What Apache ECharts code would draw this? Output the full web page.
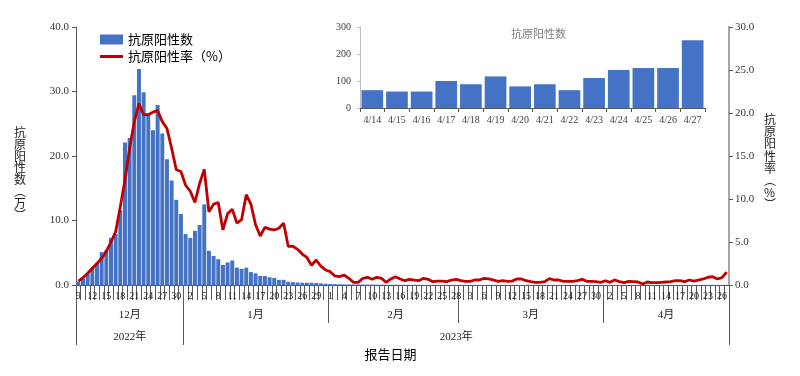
<!DOCTYPE html>
<html>
<head>
<meta charset="utf-8">
<title>抗原阳性数及阳性率</title>
<script src="https://cdn.jsdelivr.net/npm/echarts@6/dist/echarts.min.js"></script>
<style>
html, body { margin: 0; padding: 0; background: #fff; }
#main { width: 800px; height: 376px; }
</style>
</head>
<body>
<div id="main"></div>
<script>
// 报告日期：2022-12-09 ~ 2023-04-27，按月份的起止日
var monthRanges = [[2022, 12, 9, 31], [2023, 1, 1, 31], [2023, 2, 1, 28], [2023, 3, 1, 31], [2023, 4, 1, 27]];

// 抗原阳性数（万）
var positiveCount = [
    0.5, 1.0, 1.8, 2.6, 3.4, 5.1, 5.4, 7.3, 7.9, 11.6,
    22.1, 22.8, 29.4, 33.5, 29.9, 26.3, 24.0, 27.9, 23.5, 19.5,
    16.2, 13.2, 11.0, 7.9, 7.3, 8.4, 9.3, 12.5, 5.3, 4.5,
    4.0, 3.1, 3.5, 3.8, 2.7, 2.5, 2.7, 2.0, 1.8, 1.4,
    1.4, 1.2, 1.1, 0.8, 0.8, 0.5, 0.45, 0.4, 0.35, 0.35,
    0.35, 0.3, 0.25, 0.2, 0.15, 0.13, 0.12, 0.1, 0.09, 0.08,
    0.08, 0.07, 0.06, 0.06, 0.05, 0.05, 0.04, 0.04, 0.04, 0.03,
    0.03, 0.03, 0.03, 0.02, 0.02, 0.02, 0.02, 0.02, 0.02, 0.02,
    0.02, 0.02, 0.02, 0.02, 0.02, 0.02, 0.02, 0.02, 0.015, 0.015,
    0.015, 0.015, 0.015, 0.015, 0.015, 0.012, 0.012, 0.012, 0.012, 0.012,
    0.01, 0.01, 0.01, 0.01, 0.01, 0.01, 0.01, 0.01, 0.01, 0.01,
    0.01, 0.01, 0.01, 0.009, 0.008, 0.008, 0.008, 0.007, 0.007, 0.007,
    0.007, 0.006, 0.007, 0.007, 0.007, 0.006, 0.0066, 0.0061, 0.0061, 0.01,
    0.0088, 0.0117, 0.008, 0.0088, 0.0066, 0.0111, 0.0141, 0.0148, 0.0148, 0.0251
];

// 抗原阳性率（%）
var positiveRate = [
    0.46, 0.85, 1.36, 1.94, 2.5, 3.1, 3.9, 5.0, 6.2, 9.1,
    12.2, 15.9, 19.0, 21.1, 19.8, 19.8, 20.1, 20.3, 19.0, 18.2,
    15.9, 13.4, 13.2, 11.6, 10.9, 9.6, 11.8, 13.45, 8.5, 9.4,
    9.6, 6.4, 8.3, 8.8, 7.2, 7.6, 10.5, 9.4, 7.0, 5.7,
    6.7, 6.5, 6.4, 6.6, 7.2, 4.5, 4.5, 4.15, 3.6, 3.2,
    2.3, 2.9, 2.2, 1.75, 1.55, 1.05, 0.97, 1.16, 0.78, 0.31,
    0.31, 0.78, 0.9, 0.66, 0.9, 0.78, 0.31, 0.7, 0.97, 0.7,
    0.5, 0.66, 0.58, 0.5, 0.78, 0.66, 0.39, 0.45, 0.45, 0.39,
    0.58, 0.66, 0.5, 0.43, 0.43, 0.58, 0.58, 0.78, 0.7, 0.58,
    0.43, 0.5, 0.43, 0.45, 0.7, 0.7, 0.5, 0.39, 0.31, 0.31,
    0.39, 0.74, 0.58, 0.58, 0.43, 0.43, 0.43, 0.5, 0.66, 0.43,
    0.43, 0.39, 0.31, 0.5, 0.31, 0.58, 0.39, 0.27, 0.43, 0.39,
    0.35, 0.12, 0.35, 0.27, 0.27, 0.31, 0.35, 0.39, 0.5, 0.5,
    0.39, 0.58, 0.45, 0.58, 0.7, 0.9, 0.97, 0.7, 0.85, 1.5
];

// 小图：4月14日-27日抗原阳性数（人）
var insetDates = ['4/14', '4/15', '4/16', '4/17', '4/18', '4/19', '4/20', '4/21', '4/22', '4/23', '4/24', '4/25', '4/26', '4/27'];
var insetCounts = [66, 61, 61, 100, 88, 117, 80, 88, 66, 111, 141, 148, 148, 251];

var dates = [];
var monthStart = {}, monthMid = {}, yearStart = {}, yearMid = {};
var yearFirst = {}, yearLast = {};
for (var m = 0; m < monthRanges.length; m++) {
    var r = monthRanges[m];
    var first = dates.length;
    for (var d = r[2]; d <= r[3]; d++) {
        dates.push(r[0] + '-' + r[1] + '-' + d);
    }
    var last = dates.length - 1;
    monthStart[first] = true;
    monthMid[Math.round((first + last) / 2)] = r[1] + '月';
    if (yearFirst[r[0]] === undefined) yearFirst[r[0]] = first;
    yearLast[r[0]] = last;
}
for (var y in yearFirst) {
    yearStart[yearFirst[y]] = true;
    yearMid[Math.round((yearFirst[y] + yearLast[y]) / 2)] = y + '年';
}

var serif = 'Liberation Serif, Noto Sans CJK SC';
var cjk = 'Noto Sans CJK SC';
var axisGray = '#595959';
// 图例里的红线：上下留空的细横条
var lineIcon = 'path://M0,0 L23,0 Z M0,3.6 L23,3.6 L23,6.4 L0,6.4 Z M0,10 L23,10 Z';

var myChart = echarts.init(document.getElementById('main'));

var option = {
    backgroundColor: '#fff',
    animation: false,
    title: {
        text: '抗原阳性数',
        left: 506,
        top: 23,
        textStyle: { fontSize: 11, fontWeight: 'normal', color: '#808080', fontFamily: cjk }
    },
    legend: {
        orient: 'vertical',
        left: 95,
        top: 28,
        itemWidth: 23,
        itemHeight: 10,
        itemGap: 4,
        textStyle: { fontSize: 13, color: '#000', fontFamily: cjk },
        data: [
            { name: '抗原阳性数', icon: 'rect' },
            { name: '抗原阳性率（%）', icon: lineIcon }
        ]
    },
    grid: [
        { left: 76, right: 71, top: 27, bottom: 91 },
        { left: 360, top: 27, width: 345, height: 81 }
    ],
    xAxis: [
        {
            type: 'category',
            gridIndex: 0,
            position: 'bottom',
            data: dates,
            axisLine: { show: true, lineStyle: { color: axisGray } },
            axisTick: { show: true, interval: 0, length: 15, lineStyle: { color: axisGray } },
            axisLabel: {
                interval: 2,
                margin: 6,
                fontSize: 10,
                color: '#222',
                fontFamily: serif,
                formatter: function (value) { return value.split('-')[2]; }
            }
        },
        {
            type: 'category',
            gridIndex: 0,
            position: 'bottom',
            offset: 0,
            data: dates,
            axisLine: { show: false },
            axisTick: {
                show: true,
                length: 38,
                lineStyle: { color: axisGray },
                interval: function (index) { return monthStart[index] === true; }
            },
            axisLabel: {
                margin: 25,
                fontSize: 11,
                color: '#222',
                fontFamily: serif,
                interval: function (index) { return monthMid[index] !== undefined; },
                formatter: function (value, index) { return monthMid[index] || ''; }
            }
        },
        {
            type: 'category',
            gridIndex: 0,
            position: 'bottom',
            offset: 0,
            data: dates,
            axisLine: { show: false },
            axisTick: {
                show: true,
                length: 60,
                lineStyle: { color: axisGray },
                interval: function (index) { return yearStart[index] === true; }
            },
            axisLabel: {
                margin: 47,
                fontSize: 11,
                color: '#222',
                fontFamily: serif,
                interval: function (index) { return yearMid[index] !== undefined; },
                formatter: function (value, index) { return yearMid[index] || ''; }
            },
            name: '报告日期',
            nameLocation: 'middle',
            nameGap: 63,
            nameTextStyle: { fontSize: 13, color: '#000', fontFamily: cjk, padding: [0, 24, 0, 0] }
        },
        {
            type: 'category',
            gridIndex: 1,
            data: insetDates,
            axisLine: { show: true, lineStyle: { color: axisGray } },
            axisTick: { show: true, length: 4, lineStyle: { color: axisGray } },
            axisLabel: { interval: 0, margin: 7, fontSize: 10, color: '#404040', fontFamily: serif }
        }
    ],
    yAxis: [
        {
            type: 'value',
            gridIndex: 0,
            position: 'left',
            min: 0,
            max: 40,
            interval: 10,
            axisLine: { show: true, lineStyle: { color: axisGray } },
            axisTick: { show: true, length: 4, lineStyle: { color: axisGray } },
            axisLabel: {
                margin: 7, fontSize: 11, color: '#333', fontFamily: serif,
                formatter: function (v) { return v.toFixed(1); }
            },
            splitLine: { show: false },
            name: '\n\n\n抗\n原\n阳\n性\n数\n︵\n万\n︶',
            nameLocation: 'middle',
            nameRotate: 0,
            nameGap: 50,
            nameTextStyle: { fontSize: 12, lineHeight: 11.8, color: '#222', fontFamily: cjk }
        },
        {
            type: 'value',
            gridIndex: 0,
            position: 'right',
            min: 0,
            max: 30,
            interval: 5,
            axisLine: { show: true, lineStyle: { color: '#a6a6a6', width: 2 } },
            axisTick: { show: true, length: 4, lineStyle: { color: axisGray } },
            axisLabel: {
                margin: 6, fontSize: 11, color: '#333', fontFamily: serif,
                formatter: function (v) { return v.toFixed(1); }
            },
            splitLine: { show: false },
            name: '\n抗\n原\n阳\n性\n率\n︵\n%\n︶',
            nameLocation: 'middle',
            nameRotate: 0,
            nameGap: 35,
            nameTextStyle: { fontSize: 12, lineHeight: 12.2, color: '#222', fontFamily: cjk }
        },
        {
            type: 'value',
            gridIndex: 1,
            min: 0,
            max: 300,
            interval: 100,
            axisLine: { show: true, lineStyle: { color: '#bfbfbf' } },
            axisTick: { show: true, length: 3, lineStyle: { color: '#bfbfbf' } },
            axisLabel: { margin: 9, fontSize: 10, color: '#404040', fontFamily: serif },
            splitLine: { show: false }
        }
    ],
    series: [
        {
            name: '抗原阳性数',
            type: 'bar',
            xAxisIndex: 0,
            yAxisIndex: 0,
            data: positiveCount,
            barCategoryGap: '15%',
            itemStyle: { color: '#4472C4' }
        },
        {
            name: '抗原阳性率（%）',
            type: 'line',
            xAxisIndex: 0,
            yAxisIndex: 1,
            data: positiveRate,
            symbol: 'none',
            z: 5,
            lineStyle: { color: '#C00000', width: 2.8 },
            itemStyle: { color: '#C00000' }
        },
        {
            name: '4月抗原阳性数',
            type: 'bar',
            xAxisIndex: 3,
            yAxisIndex: 2,
            data: insetCounts,
            barCategoryGap: '12%',
            itemStyle: { color: '#4472C4' }
        }
    ]
};

myChart.setOption(option);
</script>
</body>
</html>
